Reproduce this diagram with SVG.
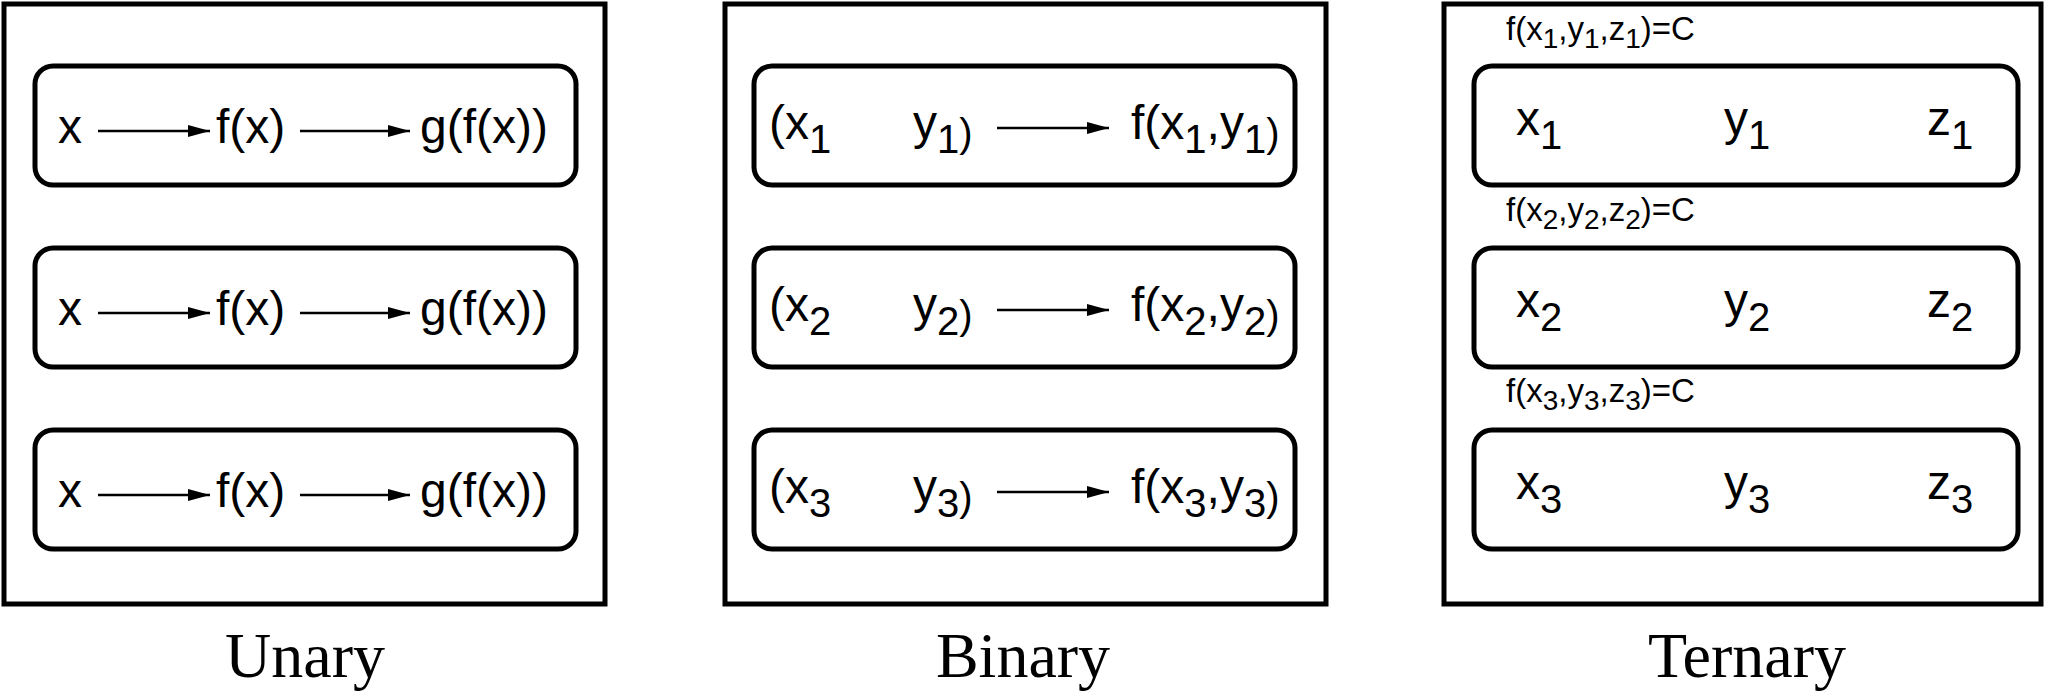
<svg xmlns="http://www.w3.org/2000/svg" width="2046" height="696" viewBox="0 0 2046 696">
<style>
.outer{fill:none;stroke:#000;stroke-width:5}
.inner{fill:#fff;stroke:#000;stroke-width:5}
.t{font-family:"Liberation Sans",Arial,sans-serif;font-size:48px;fill:#000}
.s{font-size:40px}
.lab{font-family:"Liberation Sans",Arial,sans-serif;font-size:33px;fill:#000}
.ls{font-size:28px}
.cap{font-family:"Liberation Serif","Times New Roman",serif;font-size:64px;fill:#000;text-anchor:middle}
.c{stroke:#000;stroke-width:2.5;fill:none;marker-end:url(#ah)}
</style>
<defs>
<marker id="ah" viewBox="0 0 22 12" refX="22" refY="6" markerWidth="22" markerHeight="12" markerUnits="userSpaceOnUse" orient="auto"><path d="M0,0 L22,6 L0,12 z" fill="#000"/></marker>
</defs>
<g id="unary">
<rect class="outer" x="4" y="4" width="601" height="600"/>
<g id="u1"><rect class="inner" x="35" y="66" width="541" height="119" rx="18"/>
<text class="t" x="58" y="143">x</text><text class="t" x="216" y="143">f(x)</text><text class="t" x="420" y="143">g(f(x))</text></g>
<g id="u2"><rect class="inner" x="35" y="248" width="541" height="119" rx="18"/>
<text class="t" x="58" y="325">x</text><text class="t" x="216" y="325">f(x)</text><text class="t" x="420" y="325">g(f(x))</text></g>
<g id="u3"><rect class="inner" x="35" y="430" width="541" height="119" rx="18"/>
<text class="t" x="58" y="507">x</text><text class="t" x="216" y="507">f(x)</text><text class="t" x="420" y="507">g(f(x))</text></g>
<text class="cap" x="305" y="677">Unary</text>
</g>
<g id="binary">
<rect class="outer" x="725" y="4" width="601" height="600"/>
<g id="b1"><rect class="inner" x="754" y="66" width="541" height="119" rx="18"/>
<text class="t" x="769" y="139">(x<tspan class="s" dy="14">1</tspan></text>
<text class="t" x="913" y="139">y<tspan class="s" dy="14">1</tspan><tspan class="s" dy="-6">)</tspan></text>
<text class="t" x="1131" y="139">f(x<tspan class="s" dy="14">1</tspan><tspan dy="-14">,y</tspan><tspan class="s" dy="14">1</tspan><tspan class="s" dy="-6">)</tspan></text></g>
<g id="b2"><rect class="inner" x="754" y="248" width="541" height="119" rx="18"/>
<text class="t" x="769" y="321">(x<tspan class="s" dy="14">2</tspan></text>
<text class="t" x="913" y="321">y<tspan class="s" dy="14">2</tspan><tspan class="s" dy="-6">)</tspan></text>
<text class="t" x="1131" y="321">f(x<tspan class="s" dy="14">2</tspan><tspan dy="-14">,y</tspan><tspan class="s" dy="14">2</tspan><tspan class="s" dy="-6">)</tspan></text></g>
<g id="b3"><rect class="inner" x="754" y="430" width="541" height="119" rx="18"/>
<text class="t" x="769" y="503">(x<tspan class="s" dy="14">3</tspan></text>
<text class="t" x="913" y="503">y<tspan class="s" dy="14">3</tspan><tspan class="s" dy="-6">)</tspan></text>
<text class="t" x="1131" y="503">f(x<tspan class="s" dy="14">3</tspan><tspan dy="-14">,y</tspan><tspan class="s" dy="14">3</tspan><tspan class="s" dy="-6">)</tspan></text></g>
<text class="cap" x="1023" y="677">Binary</text>
</g>
<g id="ternary">
<rect class="outer" x="1444" y="4" width="597" height="600"/>
<text class="lab" x="1506" y="40">f(x<tspan class="ls" dy="8">1</tspan><tspan dy="-8">,y</tspan><tspan class="ls" dy="8">1</tspan><tspan dy="-8">,z</tspan><tspan class="ls" dy="8">1</tspan><tspan dy="-8">)=C</tspan></text>
<g id="t1"><rect class="inner" x="1474" y="66" width="544" height="119" rx="18"/>
<text class="t" x="1516" y="135">x<tspan class="s" dy="14">1</tspan></text>
<text class="t" x="1724" y="135">y<tspan class="s" dy="14">1</tspan></text>
<text class="t" x="1927" y="135">z<tspan class="s" dy="14">1</tspan></text></g>
<text class="lab" x="1506" y="221">f(x<tspan class="ls" dy="8">2</tspan><tspan dy="-8">,y</tspan><tspan class="ls" dy="8">2</tspan><tspan dy="-8">,z</tspan><tspan class="ls" dy="8">2</tspan><tspan dy="-8">)=C</tspan></text>
<g id="t2"><rect class="inner" x="1474" y="248" width="544" height="119" rx="18"/>
<text class="t" x="1516" y="317">x<tspan class="s" dy="14">2</tspan></text>
<text class="t" x="1724" y="317">y<tspan class="s" dy="14">2</tspan></text>
<text class="t" x="1927" y="317">z<tspan class="s" dy="14">2</tspan></text></g>
<text class="lab" x="1506" y="402">f(x<tspan class="ls" dy="8">3</tspan><tspan dy="-8">,y</tspan><tspan class="ls" dy="8">3</tspan><tspan dy="-8">,z</tspan><tspan class="ls" dy="8">3</tspan><tspan dy="-8">)=C</tspan></text>
<g id="t3"><rect class="inner" x="1474" y="430" width="544" height="119" rx="18"/>
<text class="t" x="1516" y="499">x<tspan class="s" dy="14">3</tspan></text>
<text class="t" x="1724" y="499">y<tspan class="s" dy="14">3</tspan></text>
<text class="t" x="1927" y="499">z<tspan class="s" dy="14">3</tspan></text></g>
<text class="cap" x="1747" y="677">Ternary</text>
</g>
<g id="connectors">
<path class="c" d="M98,131 H210"/>
<path class="c" d="M300,131 H410"/>
<path class="c" d="M98,313 H210"/>
<path class="c" d="M300,313 H410"/>
<path class="c" d="M98,495 H210"/>
<path class="c" d="M300,495 H410"/>
<path class="c" d="M997,128 H1109"/>
<path class="c" d="M997,310 H1109"/>
<path class="c" d="M997,492 H1109"/>
</g>
</svg>
